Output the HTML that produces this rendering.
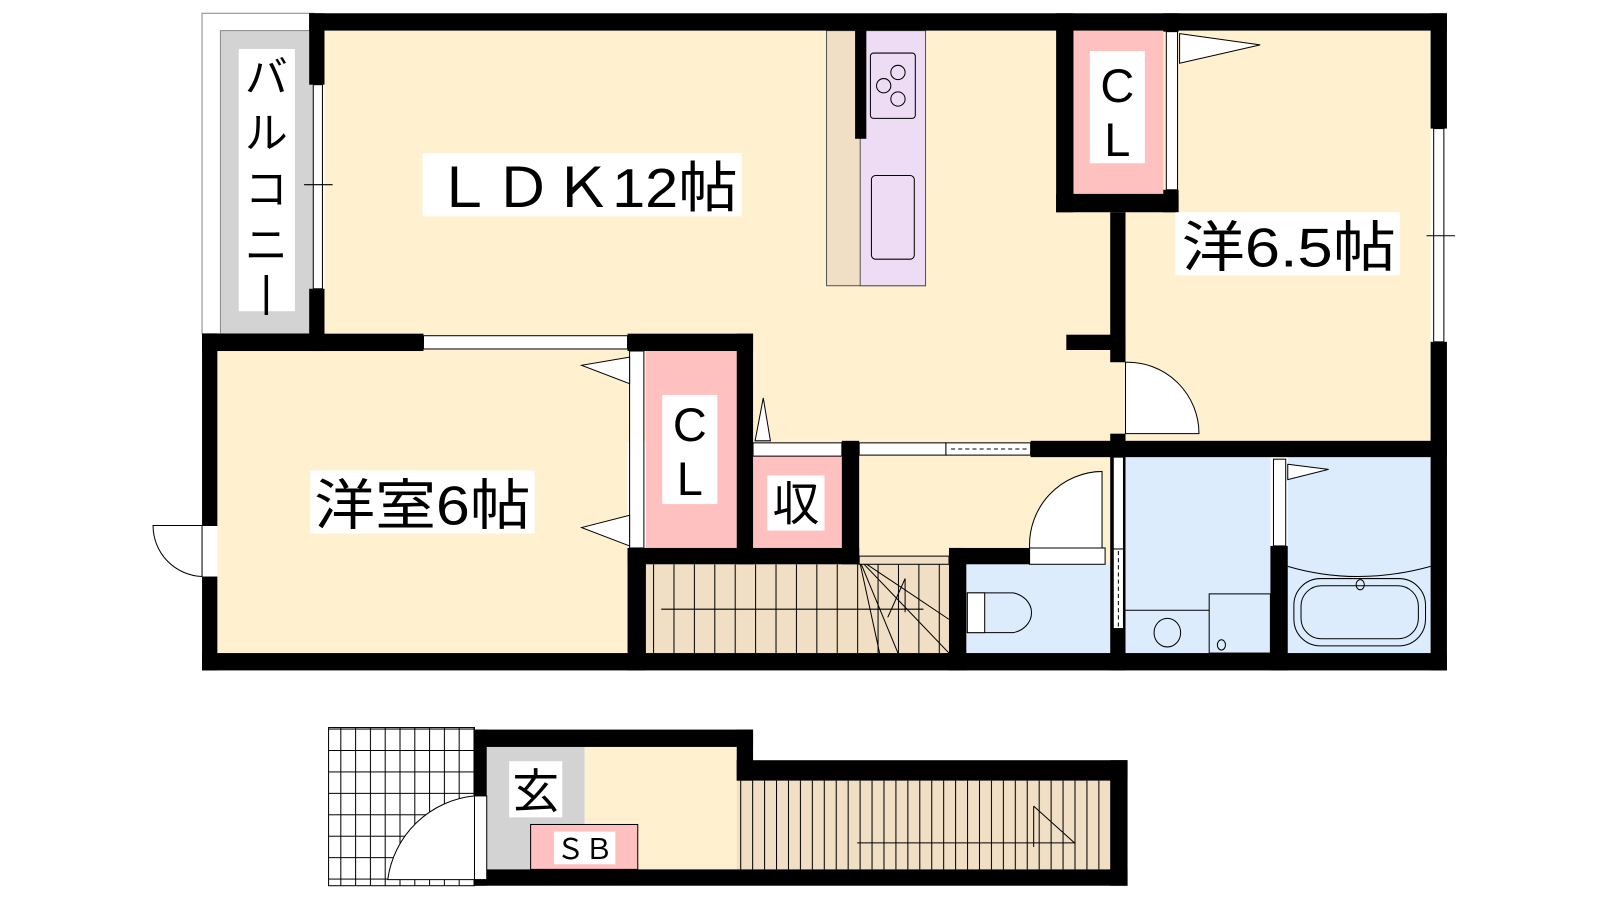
<!DOCTYPE html>
<html><head><meta charset="utf-8"><style>
html,body{margin:0;padding:0;background:#fff;width:1600px;height:900px;overflow:hidden}
svg{display:block}
text{font-family:"Liberation Sans","Noto Sans CJK JP",sans-serif;fill:#000}
</style></head><body>
<svg width="1600" height="900" viewBox="0 0 1568 882" preserveAspectRatio="none" xmlns="http://www.w3.org/2000/svg">
<defs>
<pattern id="st" width="20" height="10" patternUnits="userSpaceOnUse"><rect width="20" height="10" fill="#f0dfc4"/><line x1="0.5" y1="0" x2="0.5" y2="10" stroke="#000" stroke-width="1"/></pattern>
<pattern id="st2" width="11.7" height="10" patternUnits="userSpaceOnUse"><rect width="12" height="10" fill="#f0dfc4"/><line x1="0.5" y1="0" x2="0.5" y2="10" stroke="#000" stroke-width="1"/></pattern>
<pattern id="tile" width="14.5" height="21" patternUnits="userSpaceOnUse"><rect width="15" height="21" fill="#fff"/><path d="M0.5 0V21M0 0.5H15" stroke="#000" stroke-width="1"/></pattern>
</defs>
<!-- balcony -->
<rect x="198" y="13" width="110" height="314" fill="#fff" stroke="#888" stroke-width="1"/>
<rect x="216" y="30" width="92" height="297" fill="#d3d3d3" stroke="#888"/>
<rect x="234" y="48" width="55" height="257" fill="#fff"/>
<text x="261" y="90" font-size="42" text-anchor="middle">バ</text>
<text x="261" y="145" font-size="42" text-anchor="middle">ル</text>
<text x="261" y="200" font-size="42" text-anchor="middle">コ</text>
<text x="261" y="255" font-size="42" text-anchor="middle">ニ</text>
<text x="261" y="300" font-size="42" text-anchor="middle">|</text>
<!-- floors -->
<rect x="318" y="30" width="770" height="402" fill="#fff0d0"/>
<rect x="1088" y="30" width="314" height="402" fill="#fff0d0"/>
<rect x="213" y="344" width="402" height="296" fill="#fff0d0"/>
<rect x="738" y="432" width="350" height="121" fill="#fff0d0"/>
<rect x="633" y="344" width="89" height="193" fill="#ffc0c0"/>
<rect x="738" y="447" width="87" height="90" fill="#ffc0c0"/>
<rect x="1052" y="30" width="88" height="160" fill="#ffc0c0"/>
<rect x="633" y="553" width="297" height="87" fill="url(#st)"/>
<rect x="947" y="553" width="141" height="87" fill="#dcecfc"/>
<rect x="1103" y="448" width="142" height="192" fill="#dcecfc"/>
<rect x="1262" y="448" width="140" height="192" fill="#dcecfc"/>
<!-- kitchen -->
<rect x="810" y="30" width="97" height="250" fill="#f0dfc4" stroke="#555"/>
<rect x="843" y="30" width="64" height="250" fill="#eddcf4" stroke="#555"/>
<rect x="853" y="52" width="44" height="64" rx="3" fill="none" stroke="#000"/>
<circle cx="880" cy="71" r="7" fill="none" stroke="#000"/><circle cx="866" cy="84" r="7" fill="none" stroke="#000"/><circle cx="880" cy="97" r="7" fill="none" stroke="#000"/>
<rect x="854" y="172" width="42" height="82" rx="4" fill="none" stroke="#000"/>
<rect x="838" y="30" width="11" height="106" fill="#000"/>
<!-- walls -->
<g fill="#000">
<rect x="303" y="13" width="1115" height="17"/>
<rect x="303" y="13" width="15" height="70"/><rect x="303" y="283" width="15" height="61"/>
<rect x="198" y="327" width="217" height="17"/>
<rect x="615" y="327" width="123" height="17"/>
<rect x="198" y="327" width="15" height="188"/><rect x="198" y="565" width="15" height="92"/>
<rect x="198" y="640" width="1220" height="17"/>
<rect x="1402" y="13" width="16" height="113"/><rect x="1402" y="335" width="16" height="322"/>
<rect x="722" y="327" width="16" height="226"/>
<rect x="825" y="432" width="17" height="121"/>
<rect x="615" y="537" width="227" height="16"/>
<rect x="615" y="537" width="18" height="120"/>
<rect x="1035" y="13" width="17" height="195"/><rect x="1035" y="190" width="120" height="18"/>
<rect x="1140" y="13" width="15" height="18"/><rect x="1140" y="186" width="15" height="22"/>
<rect x="1088" y="208" width="15" height="147"/><rect x="1045" y="328" width="58" height="15"/>
<rect x="1088" y="425" width="15" height="232"/>
<rect x="1010" y="432" width="408" height="16"/>
<rect x="930" y="537" width="17" height="120"/><rect x="930" y="537" width="80" height="16"/>
<rect x="1245" y="535" width="17" height="122"/>
</g>
<!-- windows / doors -->
<g fill="#fff" stroke="#000" stroke-width="1">
<rect x="307" y="83" width="9" height="200"/>
<rect x="415" y="329" width="200" height="13"/>
<rect x="1405" y="126" width="10" height="209"/>
<rect x="617" y="344" width="14" height="193"/>
<rect x="1143" y="31" width="11" height="155"/>
<rect x="738" y="434" width="87" height="13"/>
<rect x="842" y="434" width="85" height="12"/>
<rect x="927" y="434" width="83" height="12"/>
<rect x="1091" y="448" width="10" height="90"/>
<rect x="1091" y="538" width="10" height="78"/>
<rect x="1248" y="450" width="12" height="85"/>
</g>
<line x1="932" y1="440" x2="1007" y2="440" stroke="#000" stroke-dasharray="4,3"/>
<line x1="1096" y1="540" x2="1096" y2="614" stroke="#000" stroke-dasharray="4,3"/>
<line x1="298" y1="181" x2="326" y2="181" stroke="#000"/><line x1="1398" y1="231" x2="1426" y2="231" stroke="#000"/>
<g fill="#fff" stroke="#000" stroke-width="1">
<path d="M617 350 L570 358 L617 376Z"/><path d="M617 535 L570 517 L617 505Z"/>
<path d="M1156 33 L1235 44 L1156 62Z"/>
<path d="M740 432 L748 390 L755 432Z"/>
<path d="M1262 455 L1302 460 L1262 470Z"/>
<path d="M1103 355 L1103 425 L1175 425 A70 70 0 0 0 1103 355Z"/>
<rect x="1009" y="537" width="74" height="16"/>
<path d="M1080 462 L1080 537 L1009 537 A72 72 0 0 1 1080 462Z"/>
<path d="M213 515 L150 515 A50 50 0 0 0 198 565 L198 515Z"/>
</g>
<!-- stairs lines -->
<g stroke="#000" stroke-width="1" fill="none">
<line x1="648" y1="597" x2="905" y2="597"/>
<path d="M842 548 L930 607 M842 548 L930 640 M842 548 L880 640 M842 548 L862 640"/>
<path d="M870 605 L887 567 L887 600"/>
<rect x="842" y="545" width="88" height="8" fill="#f0dfc4"/>
</g>
<!-- toilet, sink, bath -->
<g stroke="#000" stroke-width="1" fill="#fff">
<path d="M948 581 H993 A23 20 0 0 1 993 620 H948Z" fill="none"/>
<rect x="948" y="581" width="17" height="39"/>
<line x1="1103" y1="598" x2="1185" y2="598"/><rect x="1185" y="582" width="60" height="58" fill="none"/>
<ellipse cx="1144" cy="620" rx="13" ry="14" fill="none"/>
<ellipse cx="1197" cy="632" rx="4" ry="5" fill="none"/>
<path d="M1262 555 Q1330 575 1402 555" fill="none"/>
<rect x="1268" y="567" width="129" height="66" rx="26" fill="none"/>
<rect x="1275" y="574" width="115" height="52" rx="20" fill="none"/>
<ellipse cx="1333" cy="573" rx="4" ry="5" fill="none"/>
</g>
<!-- labels -->
<rect x="414" y="150" width="313" height="62" fill="#fff"/>
<text x="425" y="203" font-size="54" textLength="298" lengthAdjust="spacingAndGlyphs">ＬＤＫ<tspan>12帖</tspan></text>
<rect x="1152" y="208" width="220" height="62" fill="#fff"/>
<text x="1158" y="261" font-size="54" textLength="210" lengthAdjust="spacingAndGlyphs">洋6.5帖</text>
<rect x="304" y="461" width="220" height="62" fill="#fff"/>
<text x="308" y="514" font-size="54" textLength="212" lengthAdjust="spacingAndGlyphs">洋室6帖</text>
<rect x="1068" y="50" width="54" height="110" fill="#fff"/>
<text x="1095" y="100" font-size="46" text-anchor="middle">C</text><text x="1095" y="153" font-size="46" text-anchor="middle">L</text>
<rect x="649" y="387" width="54" height="107" fill="#fff"/>
<text x="676" y="432" font-size="46" text-anchor="middle">C</text><text x="676" y="485" font-size="46" text-anchor="middle">L</text>
<rect x="752" y="466" width="56" height="54" fill="#fff"/>
<text x="780" y="510" font-size="46" text-anchor="middle">収</text>
<!-- lower entrance -->
<rect x="322" y="713" width="143" height="155" fill="url(#tile)" stroke="#000"/>
<rect x="477" y="732" width="96" height="120" fill="#d3d3d3"/>
<rect x="573" y="732" width="150" height="120" fill="#fff0d0"/>
<rect x="722" y="765" width="366" height="87" fill="url(#st2)"/>
<rect x="520" y="808" width="105" height="44" fill="#ffc0c0" stroke="#000"/>
<rect x="543" y="815" width="60" height="32" fill="#fff"/>
<text x="573" y="842" font-size="28" text-anchor="middle">ＳＢ</text>
<rect x="499" y="746" width="52" height="55" fill="#fff"/>
<text x="525" y="792" font-size="46" text-anchor="middle">玄</text>
<g fill="#000">
<rect x="465" y="715" width="273" height="17"/>
<rect x="722" y="715" width="16" height="50"/>
<rect x="722" y="745" width="383" height="20"/>
<rect x="1088" y="745" width="17" height="123"/>
<rect x="465" y="852" width="640" height="16"/>
<rect x="465" y="715" width="12" height="65"/>
<rect x="465" y="862" width="12" height="6"/>
</g>
<g stroke="#000" fill="#fff">
<rect x="465" y="780" width="12" height="82"/>
<path d="M465 780 A95 95 0 0 0 380 862 L465 862Z"/>
<line x1="840" y1="826" x2="1053" y2="826"/>
<path d="M1013 790 L1053 826 M1013 790 L1013 830" fill="none"/>
</g>
</svg>
</body></html>
